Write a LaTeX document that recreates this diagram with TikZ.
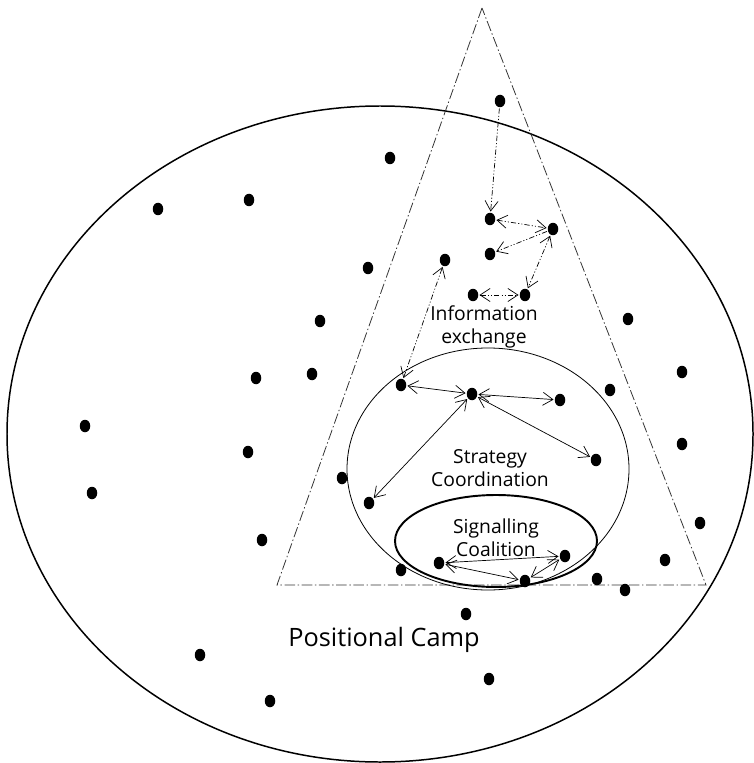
\documentclass[tikz,border=0pt]{standalone}
\usepackage{fontspec}
\setmainfont{Open Sans}
\usetikzlibrary{arrows.meta,shapes.geometric}

\begin{document}
\begin{tikzpicture}[x=0.02cm, y=-0.02cm,
    dot/.style={ellipse, fill=black, inner sep=0pt, minimum width=0.21cm, minimum height=0.25cm},
    link/.style={line width=0.4pt, shorten <=0.5pt, shorten >=0.5pt},
    info/.style={link, dash pattern=on 3pt off 1.2pt on 0.6pt off 1.2pt on 0.6pt off 1.2pt},
    label/.style={align=center, font=\fontsize{11}{13.2}\selectfont},
    >={Straight Barb[length=2mm, width=2.6mm]}]
      \useasboundingbox (0,0) rectangle (753,763);

      \draw[line width=0.85pt] (380,434) ellipse [x radius=373, y radius=328];
      \draw[line width=0.45pt, black!80, dash pattern=on 6pt off 1.5pt on 0.8pt off 1.5pt]
        (482,8) -- (277,585) -- (706,585) -- cycle;
      \draw[line width=0.45pt] (488,469) ellipse [x radius=141, y radius=121];
      \draw[line width=1.1pt] (496,541) ellipse [x radius=101, y radius=46];

      \node[label] (info) at (484,327) {Information\\exchange};
      \node[label] (strategy) at (490,468) {Strategy\\Coordination};
      \node[label] (coalition) at (496,538) {Signalling\\Coalition};
      \node[font=\fontsize{14.4}{17}\selectfont] (camp) at (384,640) {Positional Camp};

      \node[dot] (i1) at (500,101) {};
      \node[dot] (i2) at (490,219) {};
      \node[dot] (i3) at (553,229) {};
      \node[dot] (i4) at (490,254) {};
      \node[dot] (i5) at (473,295) {};
      \node[dot] (i6) at (525,295) {};
      \node[dot] (i7) at (445,260) {};

      \node[dot] (s0) at (472,394) {};
      \node[dot] (s1) at (401,385) {};
      \node[dot] (s2) at (560,400) {};
      \node[dot] (s3) at (596,460) {};
      \node[dot] (s4) at (369,503) {};

      \node[dot] (c1) at (439,563) {};
      \node[dot] (c2) at (565,556) {};
      \node[dot] (c3) at (525,581) {};

      \node[dot] (p1) at (390,158) {};
      \node[dot] (p2) at (158,209) {};
      \node[dot] (p3) at (249,200) {};
      \node[dot] (p4) at (368,268) {};
      \node[dot] (p5) at (320,321) {};
      \node[dot] (p6) at (628,319) {};
      \node[dot] (p7) at (256,378) {};
      \node[dot] (p8) at (312,374) {};
      \node[dot] (p9) at (610,390) {};
      \node[dot] (p10) at (682,372) {};
      \node[dot] (p11) at (85,426) {};
      \node[dot] (p12) at (248,452) {};
      \node[dot] (p13) at (682,444) {};
      \node[dot] (p14) at (342,478) {};
      \node[dot] (p15) at (92,493) {};
      \node[dot] (p16) at (700,523) {};
      \node[dot] (p17) at (262,540) {};
      \node[dot] (p18) at (401,570) {};
      \node[dot] (p19) at (597,579) {};
      \node[dot] (p20) at (665,560) {};
      \node[dot] (p21) at (625,590) {};
      \node[dot] (p22) at (466,614) {};
      \node[dot] (p23) at (200,655) {};
      \node[dot] (p24) at (489,679) {};
      \node[dot] (p25) at (270,701) {};

      \draw[info, ->] (i1) -- (i2);
      \draw[info, <->] (i2) -- (i3);
      \draw[info, ->] (i3) -- (i4);
      \draw[info, <->] (i3) -- (i6);
      \draw[info, <->] (i5) -- (i6);
      \draw[info, <->] (s1) -- (i7);

      \draw[link, <->] (s0) -- (s1);
      \draw[link, <->] (s0) -- (s2);
      \draw[link, <->] (s0) -- (s3);
      \draw[link, <->] (s0) -- (s4);

      \draw[link, <->] (c1) -- (c2);
      \draw[link, <->] (c3) -- (c2);
      \draw[link, <->] (c3) -- (c1);
\end{tikzpicture}
\end{document}
